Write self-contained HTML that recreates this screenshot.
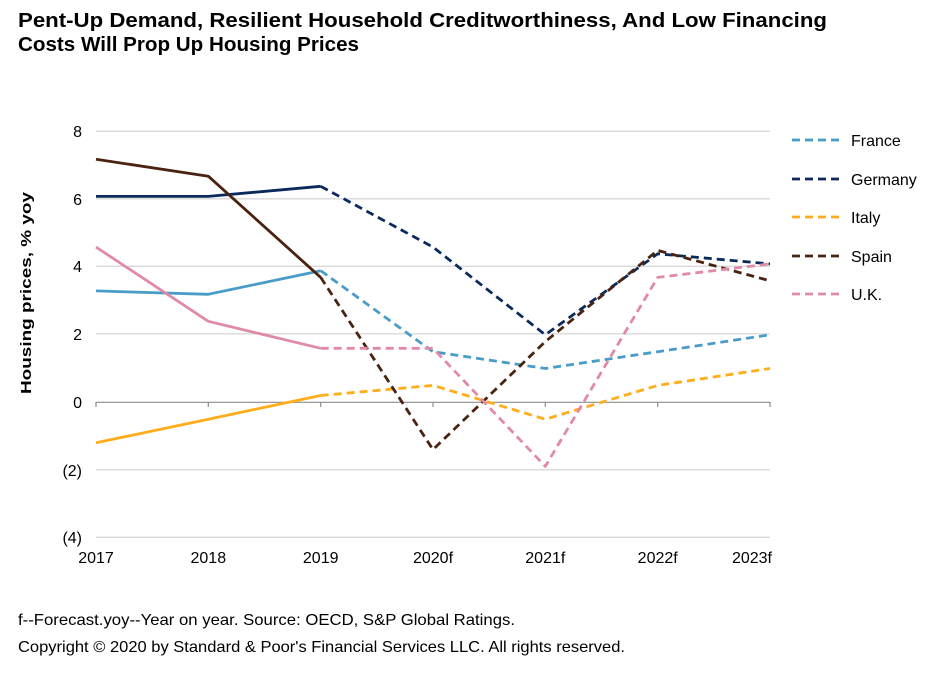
<!DOCTYPE html>
<html><head><style>
body{margin:0;background:#fff;width:936px;height:684px;overflow:hidden;font-family:"Liberation Sans",Arial,sans-serif}
</style></head><body>
<svg width="936" height="684" xmlns="http://www.w3.org/2000/svg" font-family="Liberation Sans, Arial, sans-serif">
<text x="18" y="27" font-size="20" font-weight="bold" fill="#000" textLength="809" lengthAdjust="spacingAndGlyphs">Pent-Up Demand, Resilient Household Creditworthiness, And Low Financing</text>
<text x="18" y="51" font-size="20" font-weight="bold" fill="#000" textLength="341" lengthAdjust="spacingAndGlyphs">Costs Will Prop Up Housing Prices</text>
<g stroke="#d9d9d9" stroke-width="1.3">
<line x1="96" x2="770" y1="131.3" y2="131.3"/><line x1="96" x2="770" y1="198.8" y2="198.8"/>
<line x1="96" x2="770" y1="266.3" y2="266.3"/><line x1="96" x2="770" y1="333.8" y2="333.8"/>
<line x1="96" x2="770" y1="469.8" y2="469.8"/><line x1="96" x2="770" y1="537.3" y2="537.3"/>
</g>
<g stroke="#8c8c8c" stroke-width="1.2">
<line x1="96" x2="770" y1="402.3" y2="402.3"/>
<line x1="96" x2="96" y1="402" y2="407"/><line x1="208.3" x2="208.3" y1="402" y2="407"/><line x1="320.7" x2="320.7" y1="402" y2="407"/><line x1="433" x2="433" y1="402" y2="407"/><line x1="545.3" x2="545.3" y1="402" y2="407"/><line x1="657.7" x2="657.7" y1="402" y2="407"/><line x1="770" x2="770" y1="402" y2="407"/>
</g>
<g font-size="16" fill="#000" text-anchor="end">
<text x="82" y="137">8</text><text x="82" y="205">6</text><text x="82" y="272">4</text><text x="82" y="340">2</text><text x="82" y="408">0</text><text x="82" y="476">(2)</text><text x="82" y="543">(4)</text>
</g>
<g font-size="16" fill="#000" text-anchor="middle">
<text x="96" y="563">2017</text><text x="208.3" y="563">2018</text><text x="320.7" y="563">2019</text><text x="433" y="563">2020f</text><text x="545.3" y="563">2021f</text><text x="657.7" y="563">2022f</text><text x="772" y="563" text-anchor="end">2023f</text>
</g>
<text transform="translate(31,293) rotate(-90)" font-size="15" font-weight="bold" text-anchor="middle" textLength="202" lengthAdjust="spacingAndGlyphs">Housing prices, % yoy</text>
<g fill="none" stroke-width="2.8" stroke-linejoin="round">
<polyline stroke="#ffad1a" points="96,442.8 208.3,419.2 320.7,395.5"/>
<polyline stroke="#ffad1a" stroke-dasharray="8,5" points="320.7,395.5 433,385.4 545.3,419.2 657.7,385.4 770,368.5"/>
<polyline stroke="#4a9cc8" points="96,290.9 208.3,294.3 320.7,270.7"/>
<polyline stroke="#4a9cc8" stroke-dasharray="8,5" points="320.7,270.7 433,351.7 545.3,368.5 657.7,351.7 770,334.8"/>
<polyline stroke="#0b2a5c" points="96,196.4 208.3,196.4 320.7,186.3"/>
<polyline stroke="#0b2a5c" stroke-dasharray="8,5" points="320.7,186.3 433,247.1 545.3,334.8 657.7,253.8 770,263.9"/>
<polyline stroke="#4a2210" points="96,159.3 208.3,176.2 320.7,277.4"/>
<polyline stroke="#4a2210" stroke-dasharray="8,5" points="320.7,277.4 433,449.6 545.3,341.6 657.7,250.4 770,280.8"/>
<polyline stroke="#e08aa8" points="96,247.1 208.3,321.3 320.7,348.3"/>
<polyline stroke="#e08aa8" stroke-dasharray="8,5" points="320.7,348.3 433,348.3 545.3,466.4 657.7,277.4 770,263.9"/>
</g>
<g stroke-width="2.8" stroke-dasharray="8,5">
<line x1="792" x2="840" y1="140" y2="140" stroke="#4a9cc8"/>
<line x1="792" x2="840" y1="179" y2="179" stroke="#0b2a5c"/>
<line x1="792" x2="840" y1="217" y2="217" stroke="#ffad1a"/>
<line x1="792" x2="840" y1="256" y2="256" stroke="#4a2210"/>
<line x1="792" x2="840" y1="294" y2="294" stroke="#e08aa8"/>
</g>
<g font-size="16" fill="#000">
<text x="851" y="146">France</text><text x="851" y="185">Germany</text><text x="851" y="223">Italy</text><text x="851" y="262">Spain</text><text x="851" y="300">U.K.</text>
</g>
<text x="18" y="625" font-size="16" textLength="497" lengthAdjust="spacingAndGlyphs">f--Forecast.yoy--Year on year. Source: OECD, S&amp;P Global Ratings.</text>
<text x="18" y="652" font-size="16" textLength="607" lengthAdjust="spacingAndGlyphs">Copyright © 2020 by Standard &amp; Poor's Financial Services LLC. All rights reserved.</text>
</svg>
</body></html>
